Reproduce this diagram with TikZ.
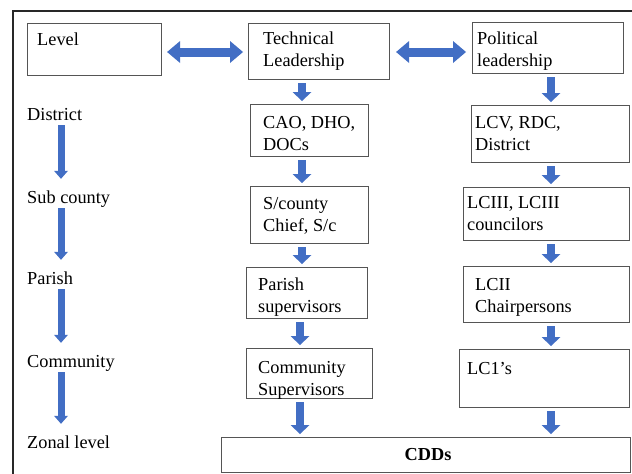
\documentclass[tikz,border=0pt]{standalone}
\usepackage{fontspec}
\setmainfont{Liberation Serif}
\usetikzlibrary{arrows.meta}
\definecolor{arrowblue}{RGB}{66,110,196}
\definecolor{boxgray}{RGB}{85,85,85}
\definecolor{framegray}{RGB}{40,40,40}
\newcommand\twol[2]{\begin{tabular}[t]{@{}l@{}}#1\\#2\end{tabular}}
\begin{document}
\begin{tikzpicture}[x=1pt,y=-1pt,
  every node/.style={font=\fontsize{18.3}{22}\selectfont, inner sep=0pt},
  box/.style={draw=boxgray, line width=1.1pt, rectangle, anchor=north west},
  txt/.style={anchor=base west},
  lbl/.style={anchor=base west, text height=13pt, text depth=4pt},
  varr/.style={draw=arrowblue, line width=8pt, shorten <=3pt, shorten >=3pt,
    -{Triangle[width=19pt,length=9pt,line width=0pt,fill=arrowblue]}},
  larr/.style={draw=arrowblue, line width=7pt, shorten <=1pt, shorten >=11pt,
    -{Triangle[width=14pt,length=8pt,line width=0pt,fill=arrowblue]}},
  harr/.style={draw=arrowblue, line width=9pt, shorten <=5pt, shorten >=5pt,
    {Triangle[width=22pt,length=13pt,line width=0pt,fill=arrowblue]}-{Triangle[width=22pt,length=13pt,line width=0pt,fill=arrowblue]}}
]
\useasboundingbox (0,0) rectangle (632,474);
\clip (0,0) rectangle (632,474);
\fill[white] (0,0) rectangle (632,474);
\draw[framegray, line width=2.5pt] (13,480) -- (13,11) -- (640,11);

% boxes
\node[box, minimum width=134pt, minimum height=52pt] (lvl) at (27,23) {};
\node[box, minimum width=141pt, minimum height=56pt] (tech) at (248,23) {};
\node[box, minimum width=151pt, minimum height=51pt] (pol) at (472,22) {};
\node[box, minimum width=118pt, minimum height=52pt] (cao) at (250,104) {};
\node[box, minimum width=158pt, minimum height=57pt] (lcv) at (471,105) {};
\node[box, minimum width=118pt, minimum height=57pt] (scc) at (250,186) {};
\node[box, minimum width=166pt, minimum height=53pt] (lc3) at (463,187) {};
\node[box, minimum width=121pt, minimum height=51pt] (par) at (246,267) {};
\node[box, minimum width=166pt, minimum height=56pt] (lc2) at (463,266) {};
\node[box, minimum width=126pt, minimum height=50pt] (com) at (246,348) {};
\node[box, minimum width=170pt, minimum height=58pt] (lc1) at (459,349) {};
\node[box, minimum width=409pt, minimum height=35pt] (cdd) at (221,437) {};

% box texts
\node[txt] (tLvl) at (37,45) {Level};
\node[txt] (tTech) at (263,44) {\twol{Technical}{Leadership}};
\node[txt] (tPol) at (477,44) {\twol{Political}{leadership}};
\node[txt] (tCao) at (263,128) {\twol{CAO, DHO,}{DOCs}};
\node[txt] (tLcv) at (475,128) {\twol{LCV, RDC,}{District}};
\node[txt] (tScc) at (263,209) {\twol{S/county}{Chief, S/c}};
\node[txt] (tLc3) at (467,208) {\twol{LCIII, LCIII}{councilors}};
\node[txt] (tPar) at (258,290) {\twol{Parish}{supervisors}};
\node[txt] (tLc2) at (475,290) {\twol{LCII}{Chairpersons}};
\node[txt] (tCom) at (258,373) {\twol{Community}{Supervisors}};
\node[txt] (tLc1) at (467,374) {LC1’s};
\node[font=\fontsize{18.3}{22}\selectfont\bfseries] (tCdd) at (428,454.5) {CDDs};

% level labels
\node[lbl] (dist) at (27,120) {District};
\node[lbl] (sub) at (27,203) {Sub county};
\node[lbl] (parl) at (27,284) {Parish};
\node[lbl] (coml) at (27,367) {Community};
\node[lbl] (zon) at (27,448) {Zonal level};

% guide coordinates
\coordinate (lx) at (61,0);
\coordinate (cx) at (302,0);
\coordinate (cx2) at (300,0);
\coordinate (rx) at (551,0);
\coordinate (ay) at (0,52);

% left column arrows
\draw[larr] (dist.south -| lx) -- (sub.north -| lx);
\draw[larr] (sub.south -| lx) -- (parl.north -| lx);
\draw[larr] (parl.south -| lx) -- (coml.north -| lx);
\draw[larr] (coml.south -| lx) -- (zon.north -| lx);

% horizontal double arrows
\draw[harr] (lvl.east |- ay) -- (tech.west |- ay);
\draw[harr, shorten <=6pt, shorten >=6pt] (tech.east |- ay) -- (pol.west |- ay);

% technical column
\draw[varr] (tech.south -| cx) -- (cao.north -| cx);
\draw[varr] (cao.south -| cx) -- (scc.north -| cx);
\draw[varr] (scc.south -| cx) -- (par.north -| cx);
\draw[varr] (par.south -| cx2) -- (com.north -| cx2);
\draw[varr] (com.south -| cx2) -- (cdd.north -| cx2);

% political column
\draw[varr] (pol.south -| rx) -- (lcv.north -| rx);
\draw[varr] (lcv.south -| rx) -- (lc3.north -| rx);
\draw[varr] (lc3.south -| rx) -- (lc2.north -| rx);
\draw[varr] (lc2.south -| rx) -- (lc1.north -| rx);
\draw[varr] (lc1.south -| rx) -- (cdd.north -| rx);
\end{tikzpicture}
\end{document}
